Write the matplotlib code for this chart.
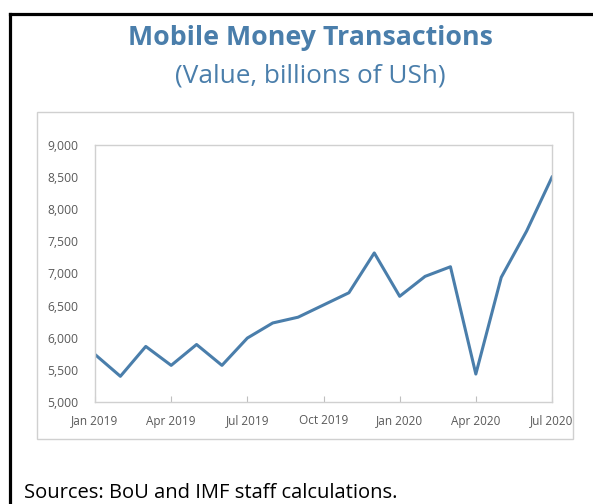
import matplotlib
matplotlib.use("Agg")
import matplotlib.pyplot as plt
from matplotlib.patches import Rectangle
from matplotlib.lines import Line2D

months = ["Jan 2019", "Feb 2019", "Mar 2019", "Apr 2019", "May 2019", "Jun 2019",
          "Jul 2019", "Aug 2019", "Sep 2019", "Oct 2019", "Nov 2019", "Dec 2019",
          "Jan 2020", "Feb 2020", "Mar 2020", "Apr 2020", "May 2020", "Jun 2020",
          "Jul 2020"]
values = [5740, 5400, 5865, 5570, 5895, 5570, 5995, 6230, 6320, 6510, 6700,
          7320, 6645, 6955, 7105, 5435, 6940, 7660, 8500]
tick_labels = ["Jan 2019", "Apr 2019", "Jul 2019", "Oct 2019", "Jan 2020",
               "Apr 2020", "Jul 2020"]
y_ticks = [5000, 5500, 6000, 6500, 7000, 7500, 8000, 8500, 9000]

plt.rcParams['font.family'] = ['Open Sans', 'DejaVu Sans']
blue = '#4a7eab'
gray = '#595959'

W, H = 593, 504
fig = plt.figure(figsize=(W / 100, H / 100), dpi=100)

# black outer frame (top and left edges visible)
fig.add_artist(Line2D([10 / W, 1.0], [1 - 14 / H, 1 - 14 / H], color='black', lw=2.3,
                      transform=fig.transFigure))
fig.add_artist(Line2D([10 / W, 10 / W], [0, 1 - 14 / H], color='black', lw=2.3,
                      transform=fig.transFigure))

# gray chart box
fig.add_artist(Rectangle((37 / W, 1 - 439 / H), (573 - 37) / W, (439 - 112) / H,
                         fill=False, edgecolor='#d0d0d0', lw=1.0,
                         transform=fig.transFigure))

fig.text(310 / W, 1 - 38 / H, "Mobile Money Transactions", color=blue,
         fontsize=19.3, fontweight='bold', ha='center', va='center')
fig.text(310 / W, 1 - 76 / H, "(Value, billions of USh)", color=blue,
         fontsize=18.8, ha='center', va='center')
fig.text(24 / W, 1 - 493 / H, "Sources: BoU and IMF staff calculations.", color='black',
         fontsize=14.5, ha='left', va='center')

ax = fig.add_axes([95 / W, 1 - 402 / H, (552 - 95) / W, (402 - 145) / H])
x = list(range(len(months)))
ax.plot(x, values, color=blue, lw=2.2)
ax.set_xlim(0, len(months) - 1)
ax.set_ylim(5000, 9000)
ax.set_yticks(y_ticks)
ax.set_yticklabels([f"{v:,}" for v in y_ticks])
ax.set_xticks([months.index(t) for t in tick_labels])
ax.set_xticklabels(tick_labels)
for s in ax.spines.values():
    s.set_color('#d0d0d0')
    s.set_linewidth(1.0)
ax.tick_params(axis='x', direction='in', length=4, color='#bfbfbf', labelsize=8.5,
               labelcolor=gray, pad=9)
ax.tick_params(axis='y', length=0, labelsize=8.7, labelcolor=gray, pad=12)

fig.savefig("out.png", dpi=100)
